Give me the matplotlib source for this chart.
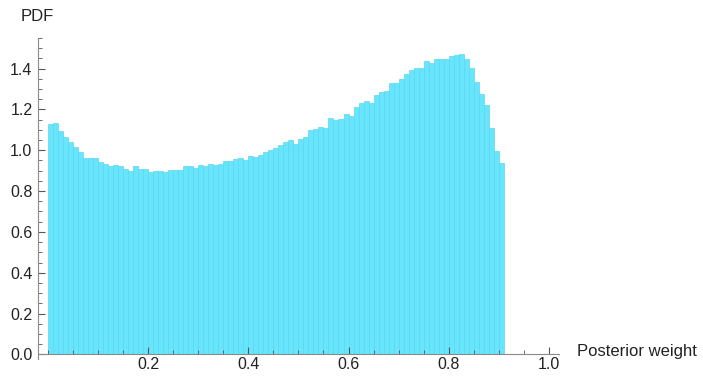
import numpy as np
import matplotlib
matplotlib.use("Agg")
import matplotlib.pyplot as plt
from matplotlib.ticker import MultipleLocator

plt.rcParams['font.family'] = ['Liberation Sans', 'DejaVu Sans']

# Histogram of posterior weight, bin width 0.01 from 0 to 0.91
bin_width = 0.01
pdf_values = [
    1.128, 1.131, 1.095, 1.064, 1.038, 1.016, 0.992, 0.964, 0.961, 0.961,
    0.943, 0.933, 0.923, 0.926, 0.923, 0.907, 0.897, 0.922, 0.907, 0.910,
    0.892, 0.897, 0.897, 0.894, 0.905, 0.905, 0.902, 0.923, 0.923, 0.915,
    0.926, 0.923, 0.935, 0.928, 0.933, 0.946, 0.949, 0.956, 0.961, 0.953,
    0.970, 0.969, 0.976, 0.989, 1.002, 1.012, 1.025, 1.041, 1.051, 1.031,
    1.054, 1.065, 1.100, 1.106, 1.114, 1.108, 1.158, 1.150, 1.154, 1.178,
    1.170, 1.214, 1.232, 1.242, 1.233, 1.271, 1.287, 1.289, 1.328, 1.330,
    1.348, 1.374, 1.392, 1.404, 1.405, 1.435, 1.429, 1.445, 1.446, 1.449,
    1.460, 1.468, 1.473, 1.446, 1.403, 1.333, 1.276, 1.224, 1.111, 0.994,
    0.938,
]
bin_starts = np.arange(len(pdf_values)) * bin_width

x_ticks = [0.2, 0.4, 0.6, 0.8, 1.0]
y_ticks = [0.0, 0.2, 0.4, 0.6, 0.8, 1.0, 1.2, 1.4]

fig = plt.figure(figsize=(7.03, 3.76), dpi=100)
ax = fig.add_axes([0.054, 0.044, 0.741, 0.855])

ax.bar(bin_starts, pdf_values, width=bin_width, align='edge',
       color='#67E5FD', edgecolor='#5DD6EE', linewidth=0.5)

ax.set_xlim(-0.02, 1.02)
ax.set_ylim(-0.025, 1.55)

axis_grey = '#8a8a8a'
for side in ['top', 'right']:
    ax.spines[side].set_visible(False)
ax.spines['bottom'].set_position(('data', 0))
ax.spines['bottom'].set_color(axis_grey)
ax.spines['left'].set_color(axis_grey)

ax.set_xticks(x_ticks)
ax.set_xticklabels([f'{t:.1f}' for t in x_ticks])
ax.set_yticks(y_ticks)
ax.set_yticklabels([f'{t:.1f}' for t in y_ticks])
ax.xaxis.set_minor_locator(MultipleLocator(0.05))
ax.yaxis.set_minor_locator(MultipleLocator(0.05))
ax.tick_params(which='major', direction='in', length=5, width=0.8,
               color='#555555', labelsize=11.5, labelcolor='#222222')
ax.tick_params(axis='x', which='major', pad=2)
ax.tick_params(axis='y', which='major', pad=4)
ax.tick_params(which='minor', direction='in', length=3, width=0.6,
               color='#555555')

fig.text(0.029, 0.955, 'PDF', fontsize=12, color='#222222', va='center')
fig.text(0.821, 0.064, 'Posterior weight', fontsize=12, color='#222222',
         va='center')

fig.savefig('out.png', dpi=100)
